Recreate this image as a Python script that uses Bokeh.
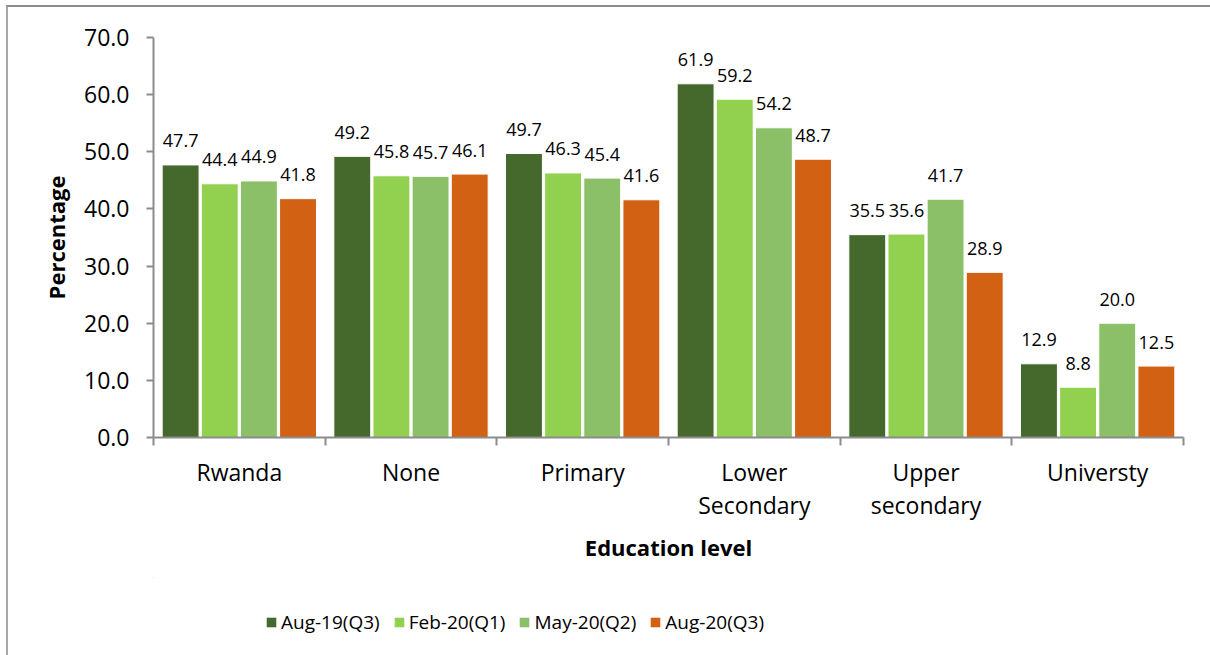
from bokeh.plotting import figure
from bokeh.models import (ColumnDataSource, FixedTicker, NumeralTickFormatter, Legend,
                          LegendItem, Range1d, LinearAxis)
from bokeh.layouts import column
from bokeh.core.properties import value
from bokeh.embed import file_html
from bokeh.resources import INLINE

categories = ["Rwanda", "None", "Primary", "Lower\nSecondary", "Upper\nsecondary", "Universty"]
series_names = ["Aug-19(Q3)", "Feb-20(Q1)", "May-20(Q2)", "Aug-20(Q3)"]
aug19 = [47.7, 49.2, 49.7, 61.9, 35.5, 12.9]
feb20 = [44.4, 45.8, 46.3, 59.2, 35.6, 8.8]
may20 = [44.9, 45.7, 45.4, 54.2, 41.7, 20.0]
aug20 = [41.8, 46.1, 41.6, 48.7, 28.9, 12.5]
colors = ["#45692D", "#92D050", "#8CC068", "#D26114"]
y_ticks = [0, 10, 20, 30, 40, 50, 60, 70]

FONT = "Open Sans"
series = [aug19, feb20, may20, aug20]
offsets = [-0.342, -0.114, 0.114, 0.342]
bar_w = 0.215

p = figure(width=1202, height=570, output_backend="svg", toolbar_location=None,
           x_range=Range1d(0, len(categories)), y_range=Range1d(0, 70),
           min_border_left=145, min_border_right=27, min_border_top=30, min_border_bottom=140)
p.outline_line_color = None
p.xgrid.visible = False
p.ygrid.visible = False

# legend strip (separate small figure so the legend is not clipped by the frame)
p2 = figure(width=1202, height=78, output_backend="svg", toolbar_location=None,
            x_range=Range1d(0, 1), y_range=Range1d(0, 1), min_border=0)
p2.xaxis.visible = False
p2.yaxis.visible = False
p2.xgrid.visible = False
p2.ygrid.visible = False
p2.outline_line_color = None

items = []
for name, vals, off, col in zip(series_names, series, offsets, colors):
    xs = [i + 0.5 + off for i in range(len(categories))]
    src = ColumnDataSource(dict(x=xs, top=vals, lab=["%.1f" % v for v in vals]))
    p.vbar(x="x", top="top", width=bar_w, bottom=0, source=src,
           fill_color=col, line_color="white", line_width=1)
    p.text(x="x", y="top", text="lab", source=src, text_align="center",
           text_baseline="middle", y_offset=-24, text_font=value(FONT),
           text_font_size="18px", text_color="#000000")
    # off-range proxy glyph used only for the legend swatch
    lr = p2.vbar(x=[-1.0], bottom=[2.0], top=[3.0], width=0.1, fill_color=col, line_color=None)
    items.append(LegendItem(label=name, renderers=[lr]))

# y axis
ya = p.yaxis[0]
ya.ticker = FixedTicker(ticks=y_ticks)
ya.formatter = NumeralTickFormatter(format="0.0")
ya.axis_line_color = "#8c8c8c"
ya.axis_line_width = 2
ya.major_tick_line_color = "#8c8c8c"
ya.major_tick_line_width = 2
ya.major_tick_in = 0
ya.major_tick_out = 7
ya.minor_tick_line_color = None
ya.major_label_standoff = 17
ya.major_label_text_font = FONT
ya.major_label_text_font_size = "23px"
ya.major_label_text_color = "#000000"
ya.axis_label = "Percentage"
ya.axis_label_text_font = FONT
ya.axis_label_text_font_style = "bold"
ya.axis_label_text_font_size = "22px"
ya.axis_label_text_color = "#000000"
ya.axis_label_standoff = 10

# x axis: first label line on the main axis, second line on a helper axis below it
centers = [i + 0.5 for i in range(len(categories))]
line1 = [c.split("\n")[0] for c in categories]
line2 = [c.split("\n")[1] if "\n" in c else "" for c in categories]

xa = p.xaxis[0]
xa.ticker = FixedTicker(ticks=centers, minor_ticks=list(range(len(categories) + 1)))
xa.major_label_overrides = {c: lab for c, lab in zip(centers, line1)}
xa.axis_line_color = "#8c8c8c"
xa.axis_line_width = 2
xa.major_tick_line_color = None
xa.major_tick_in = 0
xa.major_tick_out = 8
xa.minor_tick_line_color = "#8c8c8c"
xa.minor_tick_line_width = 2
xa.minor_tick_in = 0
xa.minor_tick_out = 8
xa.major_label_standoff = 10
xa.major_label_text_font = FONT
xa.major_label_text_font_size = "23px"
xa.major_label_text_color = "#000000"

xb = LinearAxis(ticker=FixedTicker(ticks=centers),
                major_label_overrides={c: lab for c, lab in zip(centers, line2)})
xb.axis_line_color = None
xb.major_tick_line_color = None
xb.minor_tick_line_color = None
xb.major_tick_in = 0
xb.major_tick_out = 0
xb.major_label_standoff = -2
xb.major_label_text_font = FONT
xb.major_label_text_font_size = "23px"
xb.major_label_text_color = "#000000"
xb.axis_label = "Education level"
xb.axis_label_text_font = FONT
xb.axis_label_text_font_style = "bold"
xb.axis_label_text_font_size = "22px"
xb.axis_label_text_color = "#000000"
xb.axis_label_standoff = 8
p.add_layout(xb, "below")

legend = Legend(items=items, orientation="horizontal", location=(112, 20),
                label_text_font=FONT, label_text_font_size="19px",
                label_text_color="#000000", glyph_width=12, glyph_height=12,
                label_standoff=4, spacing=13, border_line_color=None,
                background_fill_alpha=0, margin=0, padding=0)
p2.add_layout(legend, "center")

layout = column(p, p2, spacing=0)
layout.styles = {"margin-left": "6px", "margin-top": "5px",
                 "border-left": "2px solid #a6a6a6", "border-top": "2px solid #8c8c8c"}

open("out.html", "w").write(file_html(layout, INLINE))
